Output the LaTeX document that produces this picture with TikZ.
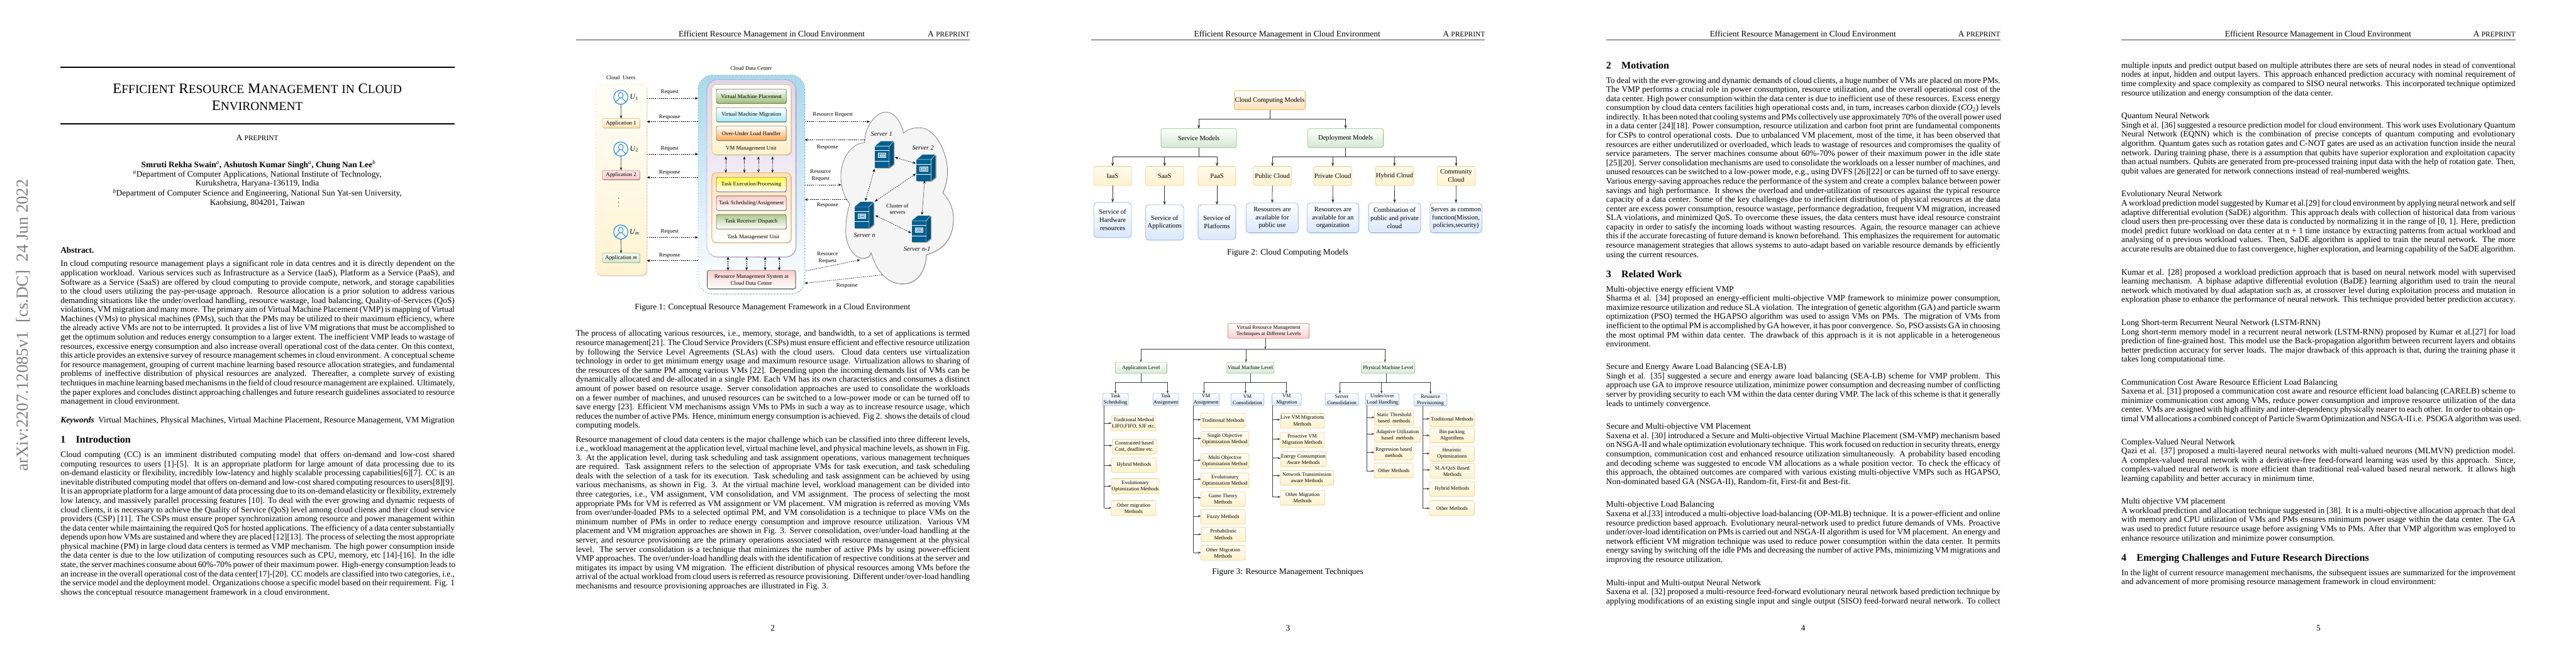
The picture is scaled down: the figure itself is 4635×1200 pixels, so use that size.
\documentclass[tikz,border=0pt]{standalone}
\usepackage{fontspec}
\setmainfont{Liberation Serif}
\usetikzlibrary{arrows.meta,shadows,calc}
\hfuzz=50pt \hbadness=10000 \overfullrule=0pt
\definecolor{srvblue}{HTML}{005F8F}
\definecolor{ublue}{HTML}{1E88E5}
\definecolor{dctop}{HTML}{A9D8EC}
\definecolor{dcbord}{HTML}{2F80A8}
\definecolor{purtop}{HTML}{E1D5E7}
\definecolor{purbord}{HTML}{8E5FA8}
\definecolor{ylo}{HTML}{FFF2CC}
\definecolor{ylobord}{HTML}{E3C878}
\definecolor{grn}{HTML}{D5E8D4}
\definecolor{grnbord}{HTML}{8DBB78}
\definecolor{blu}{HTML}{DAE8FC}
\definecolor{blubord}{HTML}{7F9FCC}
\definecolor{org}{HTML}{FFE0B8}
\definecolor{orgbord}{HTML}{F0A93A}
\definecolor{pnk}{HTML}{F8CECC}
\definecolor{pnkbord}{HTML}{C8605C}
\newcommand\bodyf{\fontsize{15.15}{16.5}\selectfont}
\newcommand\secf{\fontsize{18.2}{20}\selectfont\bfseries}
\newcommand\jln[1]{\hbox to 709pt{\rule[-4pt]{0pt}{12pt}#1}}
\newcommand\lln[1]{\hbox to 709pt{\rule[-4pt]{0pt}{12pt}#1\hfil}}
\newcommand\txtblock[4]{\node[anchor=north west,inner sep=0pt,outer sep=0pt] (#1) at (#2,{#3-12}) {\vtop{\hsize=709pt\bodyf\baselineskip=16.5pt\lineskip=0pt\lineskiplimit=-20pt\parindent=0pt #4}};}
\newcommand\aprep{A {\fontsize{12.9}{13}\selectfont PREPRINT}}
\newcommand\pagehead[4]{%
  \node[base,anchor=base] (#1h) at (#3,65.7) {\bodyf Efficient Resource Management in Cloud Environment};
  \node[base,anchor=base east] (#1p) at ({#2+709},65.7) {\bodyf\aprep};
  \draw[line width=.6pt,black!75] (#2,71.3) -- ({#2+709},71.3);
  \node[base,anchor=base] (#1n) at ({#2+354.5},1136) {\bodyf #4};}
\newcommand\bx[7][]{\node[box,#1,minimum width={(#5-#3)*1pt},minimum height={(#6-#4)*1pt}] (#2) at ({(#3+#5)/2},{(#4+#6)/2}) {#7};}
% leaf of figure 3: name, x1,y1,x2,y2, text, arrow y, trunk x
\newcommand\leaf[8]{\bx[leafbox]{#1}{#2}{#3}{#4}{#5}{#6}
  \coordinate (#1t) at (#8,#7);
  \draw[tree3] (#1t) -- (#1t -| #1.west);}
\tikzset{
  base/.style={inner sep=0pt,outer sep=0pt},
  box/.style={inner sep=0pt,outer sep=0pt,align=center,rounded corners=3pt},
  shd/.style={drop shadow={shadow xshift=.9pt,shadow yshift=-1.2pt,fill=black!50,opacity=.55}},
  fa/.style={font=\fontsize{10}{12.3}\selectfont},
  fb/.style={font=\fontsize{12}{14.6}\selectfont},
  fc/.style={font=\fontsize{9.4}{11.4}\selectfont},
  flabel/.style={base,fa,align=center},
  dasharr/.style={line width=.7pt,black,dash pattern=on 2pt off 1.6pt,-{Stealth[length=5.5pt,width=4.5pt]}},
  dbl/.style={line width=.7pt,black,dash pattern=on 2pt off 1.6pt,{Stealth[length=5.5pt,width=4.5pt]}-{Stealth[length=5.5pt,width=4.5pt]}},
  solidarr/.style={line width=.7pt,black!85,-{Stealth[length=5.5pt,width=4.5pt]}},
  innerbox/.style={fa,rounded corners=2.5pt,draw=black!65,line width=.7pt,shd},
  appbox/.style={fa,rounded corners=1.5pt,line width=.6pt,shd},
  tree2/.style={line width=.9pt,black!80,-{Stealth[length=6.5pt,width=5pt]}},
  line2/.style={line width=.9pt,black!80},
  tree3/.style={line width=.8pt,black!75,-{Stealth[length=5pt,width=4pt]}},
  line3/.style={line width=.8pt,black!75},
  yellowb/.style={fb,rounded corners=3.5pt,top color=ylo!30,bottom color=ylo,draw=ylobord,line width=.7pt},
  blueb/.style={fb,rounded corners=6pt,top color=white,bottom color=blu,draw=blubord,line width=.7pt},
  greenb/.style={top color=white,bottom color=grn,draw=grnbord,line width=.7pt,rounded corners=3.5pt},
  l3box/.style={fc,rounded corners=2pt,top color=white,bottom color=blu,draw=blubord,line width=.6pt},
  leafbox/.style={fc,rounded corners=2.5pt,top color=ylo!25,bottom color=ylo,draw=ylobord,line width=.6pt},
  serverpic/.pic={
    \fill[black!40] (1.6,1.6) rectangle (27.6,39.9);
    \fill[black!40] (27,1) -- (35.6,-8) -- (35.6,33) -- (27,39.9) -- cycle;
    \fill[srvblue] (0,0) rectangle (26,38.3);
    \fill[srvblue] (0,0) -- (10.7,-9) -- (34,-9) -- (26,0) -- cycle;
    \fill[srvblue!85!black] (26,0) -- (34,-9) -- (34,31.7) -- (26,38.3) -- cycle;
    \draw[white,line width=.5pt] (0,0) -- (26,0) -- (34,-9) (26,0) -- (26,38.3);
    \draw[white,line width=.9pt] (0,8) -- (26,8) (0,27) -- (26,27);
    \draw[white,line width=.8pt,fill=srvblue!70] (6,12.5) rectangle (20,20.5);
    \draw[white,line width=.5pt] (9,15) rectangle (17,18);
  },
  usericon/.pic={
    \draw[ublue,line width=1.1pt] (0,-3.5) ellipse (4.2 and 5.3);
    \draw[ublue,line width=1.1pt] (-9.2,8.5) .. controls (-8,5) and (-3.5,5.2) .. (-2.6,1.2)
       (9.2,8.5) .. controls (8,5) and (3.5,5.2) .. (2.6,1.2);
  },
}
\begin{document}
\begin{tikzpicture}[x=1pt,y=-1pt]
\useasboundingbox[fill=white] (0,0) rectangle (4635,1200);

% ------------------------------------------------ page 1
\node[base,anchor=base west,rotate=90,text=black!50] (stamp) at (50,848) {\fontsize{30.3}{32}\selectfont arXiv:2207.12085v1\ \ [cs.DC]\ \ 24 Jun 2022};
\draw[line width=2.6pt] (109,121.3) -- (818,121.3);
\draw[line width=2.6pt] (109,222.7) -- (818,222.7);
\newcommand\tc[2]{{\fontsize{26}{28}\selectfont #1\fontsize{22}{28}\selectfont #2}}
\node[base,anchor=base] (title1) at (463,167.6) {\fontsize{26}{28}\selectfont \tc{E}{FFICIENT} \tc{R}{ESOURCE} \tc{M}{ANAGEMENT} \tc{}{IN} \tc{C}{LOUD}};
\node[base,anchor=base] (title2) at (463,198.2) {\tc{E}{NVIRONMENT}};
\node[base,anchor=base] (prep) at (463,253) {\bodyf\aprep};
\node[base,anchor=base] (auth) at (465,301.6) {\bodyf\bfseries Smruti Rekha Swain\textsuperscript{\mdseries\itshape a}, Ashutosh Kumar Singh\textsuperscript{\mdseries\itshape a}, Chung Nan Lee\textsuperscript{\mdseries\itshape b}};
\node[base,anchor=base] (af1) at (463,318.4) {\bodyf\textsuperscript{\itshape a}Department of Computer Applications, National Institute of Technology,};
\node[base,anchor=base] (af2) at (463,334.9) {\bodyf Kurukshetra, Haryana-136119, India};
\node[base,anchor=base] (af3) at (463,352.9) {\bodyf\textsuperscript{\itshape b}Department of Computer Science and Engineering, National Sun Yat-sen University,};
\node[base,anchor=base] (af4) at (463,369.3) {\bodyf Kaohsiung, 804201, Taiwan};
\node[base,anchor=base west] (abs) at (109,456) {\bodyf\bfseries Abstract.};
\txtblock{abst}{109}{481}{
\jln{In cloud computing resource management plays a significant role in data centres and it is directly dependent on the}
\jln{application workload. Various services such as Infrastructure as a Service (IaaS), Platform as a Service (PaaS), and}
\jln{Software as a Service (SaaS) are offered by cloud computing to provide compute, network, and storage capabilities}
\jln{to the cloud users utilizing the pay-per-usage approach. Resource allocation is a prior solution to address various}
\jln{demanding situations like the under/overload handling, resource wastage, load balancing, Quality-of-Services (QoS)}
\jln{violations, VM migration and many more. The primary aim of Virtual Machine Placement (VMP) is mapping of Virtual}
\jln{Machines (VMs) to physical machines (PMs), such that the PMs may be utilized to their maximum efficiency, where}
\jln{the already active VMs are not to be interrupted. It provides a list of live VM migrations that must be accomplished to}
\jln{get the optimum solution and reduces energy consumption to a larger extent. The inefficient VMP leads to wastage of}
\jln{resources, excessive energy consumption and also increase overall operational cost of the data center. On this context,}
\jln{this article provides an extensive survey of resource management schemes in cloud environment. A conceptual scheme}
\jln{for resource management, grouping of current machine learning based resource allocation strategies, and fundamental}
\jln{problems of ineffective distribution of physical resources are analyzed. Thereafter, a complete survey of existing}
\jln{techniques in machine learning based mechanisms in the field of cloud resource management are explained. Ultimately,}
\jln{the paper explores and concludes distinct approaching challenges and future research guidelines associated to resource}
\lln{management in cloud environment.}}
\txtblock{kw}{109}{762.6}{\jln{\textbf{\textit{Keywords}}\ \ Virtual Machines, Physical Machines, Virtual Machine Placement, Resource Management, VM Migration}}
\node[base,anchor=base west] (s1n) at (109,797) {\secf 1};
\node[base,anchor=base west] (s1t) at (136.5,797) {\secf Introduction};
\txtblock{intro}{109}{824.6}{
\jln{Cloud computing (CC) is an imminent distributed computing model that offers on-demand and low-cost shared}
\jln{computing resources to users [1]-[5]. It is an appropriate platform for large amount of data processing due to its}
\jln{on-demand elasticity or flexibility, incredibly low-latency and highly scalable processing capabilities[6][7]. CC is an}
\jln{inevitable distributed computing model that offers on-demand and low-cost shared computing resources to users[8][9].}
\jln{It is an appropriate platform for a large amount of data processing due to its on-demand elasticity or flexibility, extremely}
\jln{low latency, and massively parallel processing features [10]. To deal with the ever growing and dynamic requests of}
\jln{cloud clients, it is necessary to achieve the Quality of Service (QoS) level among cloud clients and their cloud service}
\jln{providers (CSP) [11]. The CSPs must ensure proper synchronization among resource and power management within}
\jln{the data center while maintaining the required QoS for hosted applications. The efficiency of a data center substantially}
\jln{depends upon how VMs are sustained and where they are placed [12][13]. The process of selecting the most appropriate}
\jln{physical machine (PM) in large cloud data centers is termed as VMP mechanism. The high power consumption inside}
\jln{the data center is due to the low utilization of computing resources such as CPU, memory, etc [14]-[16]. In the idle}
\jln{state, the server machines consume about 60\%-70\% power of their maximum power. High-energy consumption leads to}
\jln{an increase in the overall operational cost of the data center[17]-[20]. CC models are classified into two categories, i.e.,}
\jln{the service model and the deployment model. Organizations choose a specific model based on their requirement. Fig. 1}
\lln{shows the conceptual resource management framework in a cloud environment.}}

% ------------------------------------------------ page 2
\pagehead{pg2}{1036}{1388.5}{2}
% figure 1 : users
\node[flabel] (lusers) at (1117,139.3) {Cloud\ \ Users};
\bx[top color=ylo!15,bottom color=ylo!90,draw=orange!70,line width=.9pt,dash pattern=on 1pt off 5pt,rounded corners=10pt,drop shadow={shadow xshift=.9pt,shadow yshift=-1.4pt,fill=black!40,opacity=.5}]{users}{1072}{151.7}{1164}{495.7}{}
\node[circle,draw=ublue,line width=1.3pt,minimum size=25.5pt,inner sep=0pt,outer sep=0pt,fill=white] (u1) at (1117,175) {};
\pic at (u1) {usericon};
\node[circle,draw=ublue,line width=1.3pt,minimum size=25.5pt,inner sep=0pt,outer sep=0pt,fill=white] (u2) at (1117,268.3) {};
\pic at (u2) {usericon};
\node[circle,draw=ublue,line width=1.3pt,minimum size=25.5pt,inner sep=0pt,outer sep=0pt,fill=white] (um) at (1117,417.7) {};
\pic at (um) {usericon};
\node[base,font=\fontsize{13}{14}\selectfont] (lu1) at (1141,175) {\textit{U}\textsubscript{1}};
\node[base,font=\fontsize{13}{14}\selectfont] (lu2) at (1141,268.3) {\textit{U}\textsubscript{2}};
\node[base,font=\fontsize{13}{14}\selectfont] (lum) at (1141.5,417.7) {\textit{U}\textsubscript{\itshape m}};
\bx[appbox,top color=ylo!30,bottom color=org,draw=ylobord]{app1}{1084}{213.3}{1151}{230}{Application 1}
\bx[appbox,top color=pnk!50,bottom color=pnk,draw=pnkbord]{app2}{1084}{306.7}{1151}{323.3}{Application 2}
\bx[appbox,top color=grn!30,bottom color=grn,draw=grnbord]{appm}{1084}{455.7}{1151}{472.3}{Application \textit{m}}
\draw[solidarr] (u1) -- (app1);
\draw[solidarr] (u2) -- (app2);
\draw[solidarr] (um) -- (appm);
\fill (1113,356.7) coordinate (d1) circle (.8);
\fill (1113,364) coordinate (d2) circle (.8);
\fill (1113,371) coordinate (d3) circle (.8);
% data center
\node[flabel] (ldc) at (1351.6,122.7) {Cloud Data Center};
\bx[top color=dctop,bottom color=white,draw=dcbord,line width=.9pt,dash pattern=on 1pt off 4.4pt,rounded corners=26pt,drop shadow={shadow xshift=.8pt,shadow yshift=-1.2pt,fill=black!35,opacity=.4}]{dc}{1256}{135}{1448}{529}{}
\bx[top color=purtop,bottom color=white,draw=purbord,line width=.8pt,dash pattern=on 1pt off 1.4pt,rounded corners=19pt,shd]{vmo}{1272}{143.3}{1432}{462.3}{}
\bx[top color=white,bottom color=ylo,draw=ylobord,line width=.9pt,rounded corners=8pt,shd]{vmu}{1280.8}{152.3}{1423.3}{278.3}{}
\bx[innerbox,top color=white,bottom color=green!45!yellow!55!black!55!white]{vmp}{1289}{160.7}{1414.6}{186}{Virtual Machine Placement}
\bx[innerbox,top color=white,bottom color=blue!25!cyan!35]{vmm}{1289}{193.7}{1414.6}{219.3}{Virtual Machine Migration}
\bx[innerbox,top color=white,bottom color=orange!65]{ovl}{1289}{227.3}{1414.6}{252.7}{Over-Under Load Handler}
\node[flabel] (lvmu) at (1351.6,267.3) {VM Management Unit};
\bx[top color=org,bottom color=white,draw=orgbord,line width=.9pt,rounded corners=8pt,shd]{tmu}{1280.8}{311}{1423.3}{436.7}{}
\bx[innerbox,top color=yellow!75,bottom color=white]{tex}{1289}{319.3}{1414.6}{345}{Task Execution/Processing}
\bx[innerbox,top color=pnk,bottom color=white]{tsc}{1289}{352.7}{1414.6}{378.3}{Task Scheduling/Assignment}
\bx[innerbox,top color=green!45!yellow!55!black!45!white,bottom color=white]{trc}{1289}{386.3}{1414.6}{412}{Task Receive/ Dispatch}
\node[flabel] (ltmu) at (1355.4,427.3) {Task Management Unit};
\bx[fa,top color=pnk,bottom color=white,draw=black!70,line width=.8pt,rounded corners=3.5pt,shd]{rms}{1272.5}{486.7}{1431.5}{520}{Resource Management System at\\Cloud Data Center}
\draw[dbl] (vmu.south -| 1306,0) ++(0,3.4) -- (tmu.north -| 1306,0);
\draw[dbl] (vmu.south -| 1339.4,0) ++(0,3.4) -- (tmu.north -| 1339.4,0);
\draw[dbl] (vmu.south -| 1364.6,0) ++(0,3.4) -- (tmu.north -| 1364.6,0);
\draw[dbl] (vmu.south -| 1389.9,0) ++(0,3.4) -- (tmu.north -| 1389.9,0);
\draw[dbl] (vmo.south -| 1309.9,0) -- (rms.north -| 1309.9,0);
\draw[dbl] (vmo.south -| 1343.3,0) -- (rms.north -| 1343.3,0);
\draw[dbl] (vmo.south -| 1376.8,0) -- (rms.north -| 1376.8,0);
\draw[dbl] (vmo.south -| 1402,0) -- (rms.north -| 1402,0);
% users <-> data center
\draw[dasharr] (users.east |- 0,177) -- (dc.west |- 0,177);
\draw[dasharr] (dc.west |- 0,219) -- (users.east |- 0,219);
\draw[dasharr] (users.east |- 0,277.3) -- (dc.west |- 0,277.3);
\draw[dasharr] (dc.west |- 0,319.3) -- (users.east |- 0,319.3);
\draw[dasharr] (users.east |- 0,427.3) -- (dc.west |- 0,427.3);
\draw[dasharr] (dc.west |- 0,469.3) -- (users.east |- 0,469.3);
\node[flabel] (lq1) at (1205,166) {Request};
\node[flabel] (lr1) at (1205,210.7) {Response};
\node[flabel] (lq2) at (1205,267.7) {Request};
\node[flabel] (lr2) at (1205,311) {Response};
\node[flabel] (lq3) at (1205,417.3) {Request};
\node[flabel] (lr3) at (1205,460) {Response};
% cloud
\draw[fill=black!4,draw=black!55,line width=.8pt,drop shadow={shadow xshift=.8pt,shadow yshift=-1.2pt,fill=black!35,opacity=.5}]
  (1555.6,256.7) .. controls (1555,230) and (1575,201.7) .. (1594.4,201.7)
  .. controls (1610,201.7) and (1622,222) .. (1625.9,240)
  .. controls (1632,232) and (1645,230) .. (1655,230)
  .. controls (1678,230) and (1700,262) .. (1704.4,300)
  .. controls (1706,320) and (1702,335) .. (1696.2,346.7)
  .. controls (1708,360) and (1715.6,375) .. (1715.6,393.3)
  .. controls (1715.6,420) and (1705,448) .. (1667,458.3)
  .. controls (1665,490) and (1650,511) .. (1623.5,511)
  .. controls (1595,511) and (1575,485) .. (1567.7,455)
  .. controls (1565,462) and (1560,465) .. (1553.2,465)
  .. controls (1535,465) and (1521.7,440) .. (1521.7,416.7)
  .. controls (1521.7,395) and (1525,380) .. (1529,366.7)
  .. controls (1518,355) and (1513,335) .. (1513,316.7)
  .. controls (1513,285) and (1532,258) .. (1555.6,256.7) -- cycle;
\foreach \nm/\cx/\cy in {s1/1591/278.3,s2/1666.2/302.3,sn/1554.7/387.3,sm/1657.5/412.3}{
  \node[base,minimum width=36pt,minimum height=48pt] (\nm) at (\cx,\cy) {};
  \pic at (\cx-17,\cy-15) {serverpic};
}
\node[base,font=\fontsize{11.5}{13}\selectfont\itshape] (ls1) at (1586.2,241) {Server 1};
\node[base,font=\fontsize{11.5}{13}\selectfont\itshape] (ls2) at (1660.8,266) {Server 2};
\node[base,font=\fontsize{11.5}{13}\selectfont\itshape] (lsn) at (1555.6,423.3) {Server n};
\node[base,font=\fontsize{11.5}{13}\selectfont\itshape] (lsm) at (1650,448.3) {Server n-1};
\node[flabel] (lcl) at (1614.8,376.2) {Cluster of\\servers};
\draw[dbl] ([shift={(19.4,5)}]s1.center) -- ([shift={(-18.5,-8.3)}]s2.center);
\draw[dbl] ([shift={(-17.5,25.7)}]s1.center) -- ([shift={(2.3,-25.6)}]sn.center);
\draw[dbl] ([shift={(-18.5,10.4)}]s2.center) -- ([shift={(19.3,-24.6)}]sn.center);
\draw[dbl] ([shift={(-2.5,22.7)}]s2.center) -- ([shift={(1.4,-25.6)}]sm.center);
\draw[dbl] ([shift={(20.3,.4)}]sn.center) -- ([shift={(-18,7)}]sm.center);
% data center <-> cloud
\coordinate (c1) at (1565,219); \coordinate (c2) at (1557,251.7);
\coordinate (c3) at (1513.5,332.7); \coordinate (c4) at (1524,359.3);
\coordinate (c5) at (1547.4,467.7); \coordinate (c6) at (1587,495);
\draw[dasharr] (dc.east |- c1) -- (c1);
\draw[dasharr] (c2) -- (dc.east |- c2);
\draw[dasharr] (dc.east |- c3) -- (c3);
\draw[dasharr] (c4) -- (dc.east |- c4);
\draw[dasharr] (dc.east |- 0,487.7) ++(2,0) -- (c5);
\draw[dasharr] (c6) -- (dc.east |- 0,509.8);
\node[flabel] (lc1) at (1498.4,206.3) {Resource Request};
\node[flabel] (lc2) at (1489,265) {Response};
\node[flabel] (lc3) at (1476.6,315.5) {Resource\\Request};
\node[flabel] (lc4) at (1489,370) {Response};
\node[flabel] (lc5) at (1489,463.8) {Resource\\Request};
\node[flabel] (lc6) at (1524,514.3) {Response};
\node[base,anchor=base] (cap1) at (1390,557) {\bodyf Figure 1: Conceptual Resource Management Framework in a Cloud Environment};
\txtblock{p2a}{1036}{606.7}{
\jln{The process of allocating various resources, i.e., memory, storage, and bandwidth, to a set of applications is termed}
\jln{resource management[21]. The Cloud Service Providers (CSPs) must ensure efficient and effective resource utilization}
\jln{by following the Service Level Agreements (SLAs) with the cloud users. Cloud data centers use virtualization}
\jln{technology in order to get minimum energy usage and maximum resource usage. Virtualization allows to sharing of}
\jln{the resources of the same PM among various VMs [22]. Depending upon the incoming demands list of VMs can be}
\jln{dynamically allocated and de-allocated in a single PM. Each VM has its own characteristics and consumes a distinct}
\jln{amount of power based on resource usage. Server consolidation approaches are used to consolidate the workloads}
\jln{on a fewer number of machines, and unused resources can be switched to a low-power mode or can be turned off to}
\jln{save energy [23]. Efficient VM mechanisms assign VMs to PMs in such a way as to increase resource usage, which}
\jln{reduces the number of active PMs. Hence, minimum energy consumption is achieved. Fig 2. shows the details of cloud}
\lln{computing models.}}
\txtblock{p2b}{1036}{796.9}{
\jln{Resource management of cloud data centers is the major challenge which can be classified into three different levels,}
\jln{i.e., workload management at the application level, virtual machine level, and physical machine levels, as shown in Fig.}
\jln{3. At the application level, during task scheduling and task assignment operations, various management techniques}
\jln{are required. Task assignment refers to the selection of appropriate VMs for task execution, and task scheduling}
\jln{deals with the selection of a task for its execution. Task scheduling and task assignment can be achieved by using}
\jln{various mechanisms, as shown in Fig. 3. At the virtual machine level, workload management can be divided into}
\jln{three categories, i.e., VM assignment, VM consolidation, and VM assignment. The process of selecting the most}
\jln{appropriate PMs for VM is referred as VM assignment or VM placement. VM migration is referred as moving VMs}
\jln{from over/under-loaded PMs to a selected optimal PM, and VM consolidation is a technique to place VMs on the}
\jln{minimum number of PMs in order to reduce energy consumption and improve resource utilization. Various VM}
\jln{placement and VM migration approaches are shown in Fig. 3. Server consolidation, over/under-load handling at the}
\jln{server, and resource provisioning are the primary operations associated with resource management at the physical}
\jln{level. The server consolidation is a technique that minimizes the number of active PMs by using power-efficient}
\jln{VMP approaches. The over/under-load handling deals with the identification of respective conditions at the server and}
\jln{mitigates its impact by using VM migration. The efficient distribution of physical resources among VMs before the}
\jln{arrival of the actual workload from cloud users is referred as resource provisioning. Different under/over-load handling}
\lln{mechanisms and resource provisioning approaches are illustrated in Fig. 3.}}

% ------------------------------------------------ page 3
\pagehead{pg3}{1963}{2316}{3}
% figure 2
\bx[fb,top color=white,bottom color=org,draw=orgbord,line width=.8pt,rounded corners=3.5pt]{ccm}{2221}{163.3}{2348.6}{197.7}{Cloud Computing Models}
\bx[fb,greenb]{svc}{2088.9}{231.7}{2225.1}{265.7}{Service Models}
\bx[fb,greenb]{dep}{2353.2}{231.7}{2488.9}{265.7}{Deployment Models}
\bx[yellowb]{iaas}{1968}{299.3}{2035.8}{334}{IaaS}
\bx[yellowb]{saas}{2061.3}{299.3}{2129.7}{334}{SaaS}
\bx[yellowb]{paas}{2155.7}{299.3}{2223.6}{334}{PaaS}
\bx[yellowb]{pub}{2255.2}{299.3}{2323.6}{334}{Public Cloud}
\bx[yellowb]{pri}{2363.9}{299.3}{2432.2}{334}{Private Cloud}
\bx[yellowb]{hyb}{2475.1}{299.3}{2543}{334}{Hybrid Cloud}
\bx[yellowb]{com}{2585.8}{299.3}{2654.2}{334}{Community\\Cloud}
\bx[blueb]{iaasd}{1968}{364.3}{2035.8}{427.7}{Service of\\Hardware\\resources}
\bx[blueb]{saasd}{2061.3}{368.7}{2129.7}{432.3}{Service of\\Applications}
\bx[blueb]{paasd}{2155.7}{368.7}{2223.6}{431.3}{Service of\\Platforms}
\bx[blueb]{pubd}{2242.4}{365.3}{2335.8}{419.3}{Resources are\\available for\\public use}
\bx[blueb]{prid}{2351.6}{365.3}{2445}{419.3}{Resources are\\available for an\\organization}
\bx[blueb]{hybd}{2462.3}{365.3}{2556.2}{419.3}{Combination of\\public and private\\cloud}
\bx[blueb]{comd}{2573}{365.3}{2666.4}{419.3}{Serves as common\\function(Mission,\\policies,security)}
\coordinate (j2a) at (ccm.south |- 0,214.3);
\draw[line2] (ccm.south) -- (j2a);
\draw[tree2] (j2a) -| (svc.north);
\draw[tree2] (j2a) -| (dep.north);
\coordinate (j2b) at (svc.south |- 0,282.7);
\draw[line2] (svc.south) -- (j2b);
\draw[tree2] (j2b) -| (iaas.north);
\draw[tree2] (j2b) -| (saas.north);
\draw[tree2] (j2b) -| (paas.north);
\coordinate (j2c) at (dep.south |- 0,282.7);
\draw[line2] (dep.south) -- (j2c);
\draw[tree2] (j2c) -| (pub.north);
\draw[tree2] (j2c) -| (pri.north);
\draw[tree2] (j2c) -| (hyb.north);
\draw[tree2] (j2c) -| (com.north);
\foreach \a/\b in {iaas/iaasd,saas/saasd,paas/paasd,pub/pubd,pri/prid,hyb/hybd,com/comd}
  \draw[tree2] (\a.south) -- (\b.north);
\node[base,anchor=base] (cap2) at (2317,458.3) {\bodyf Figure 2: Cloud Computing Models};
% figure 3
\bx[fc,top color=white,bottom color=pnk,draw=pnkbord,line width=.7pt,rounded corners=2.5pt]{vrm}{2209.3}{582.3}{2355.7}{609}{Virtual Resource Management\\Techniques at Different Levels}
\bx[fc,greenb,rounded corners=2pt]{apl}{2006.7}{652}{2099.6}{672.3}{Application Level}
\bx[fc,greenb,rounded corners=2pt]{vml}{2206.7}{652}{2292.4}{672.3}{Vitual Machine Level}
\bx[fc,greenb,rounded corners=2pt]{phl}{2449.6}{652}{2545.5}{672.3}{Physical Machine Level}
\coordinate (j3a) at (2276.6,628.7);
\draw[tree3] (j3a |- vrm.south) -- (j3a);
\draw[tree3] (j3a) -| (apl.north -| 2052.7,0);
\draw[tree3] (j3a) -| (vml.north -| 2241.9,0);
\draw[tree3] (j3a) -| (phl.north -| 2492,0);
\bx[l3box]{ts}{1983.7}{708.3}{2030.3}{730}{Task\\Scheduling}
\bx[l3box]{ta}{2074.3}{708.3}{2120.7}{730}{Task\\Assignment}
\bx[l3box,rounded corners=.5pt]{vma}{2146.7}{708.3}{2193.3}{730}{VM\\Assignment}
\bx[l3box]{vmc}{2214.7}{708.3}{2274.3}{730}{VM\\Consolidation}
\bx[l3box]{vmg}{2288.7}{708.3}{2341.4}{730}{VM\\Migration}
\bx[l3box]{sco}{2384.3}{708.3}{2444.3}{730}{Server\\Consolidation}
\bx[l3box]{ulh}{2457.3}{708.3}{2517.3}{730}{Under/over\\Load Handling}
\bx[l3box]{rpv}{2544}{709.3}{2603.7}{730.7}{Resource\\Provisioning}
\coordinate (j3b) at (apl.south |- 0,688.3);
\draw[line3] (apl.south) -- (j3b);
\draw[tree3] (j3b) -| (ts.north);
\draw[tree3] (j3b) -| ([xshift=3.2pt]ta.north);
\coordinate (j3c) at (vml.south |- 0,688.3);
\draw[line3] (vml.south) -- (j3c);
\draw[tree3] (j3c) -| ([xshift=-4pt]vma.north);
\draw[tree3] (j3c) -| ([xshift=-3.5pt]vmc.north);
\draw[tree3] (j3c) -| ([xshift=-.7pt]vmg.north);
\coordinate (j3d) at (2494.5,688.3);
\draw[line3] (j3d |- phl.south) -- (j3d);
\draw[tree3] (j3d) -| ([xshift=-3.6pt]sco.north);
\draw[tree3] (j3d) -| ([xshift=-1.6pt]ulh.north);
\draw[tree3] (j3d) -| (rpv.north);
% leaves
\leaf{t1}{1999.7}{748.7}{2079.7}{775.3}{Traditional Method\\LIFO,FIFO, SJF etc.}{761.7}{1986.7}
\leaf{t2}{2001}{790.7}{2081}{817.3}{Constrained based\\Cost, deadline etc.}{802}{1986.7}
\leaf{t3}{2000.3}{824}{2080.3}{850.3}{Hybrid Methods}{837.7}{1986.7}
\leaf{t4}{1999.7}{861.7}{2085.7}{888.3}{Evolutionary\\Optimization Methods}{875}{1986.7}
\leaf{t5}{1999.7}{901.3}{2079.7}{928}{Other migration\\Methods}{914.3}{1986.7}
\draw[line3] (t5t |- ts.south) -- (t5t);
\leaf{a1}{2160.7}{743.7}{2240.7}{770}{Traditional Methods}{755.3}{2147.3}
\leaf{a2}{2160.7}{776.7}{2247.3}{803.3}{Single Objective\\Optimization Method}{789.3}{2147.3}
\leaf{a3}{2160.7}{816.7}{2247.3}{843.3}{Multi Objective\\Optimization Method}{828.3}{2147.3}
\leaf{a4}{2160.7}{851.3}{2247.3}{878}{Evolutionary\\Optimization Method}{862.3}{2147.3}
\leaf{a5}{2160.7}{884.7}{2240.7}{911.3}{Game Theory\\Methods}{896}{2147.3}
\leaf{a6}{2160.7}{917.3}{2240.7}{943.7}{Fuzzy Methods}{929}{2147.3}
\leaf{a7}{2161.3}{948.7}{2241.3}{975.3}{Probabilistic\\Methods}{961.7}{2147.3}
\leaf{a8}{2160.7}{981.7}{2240.7}{1008.3}{Other Migration\\Methods}{994.7}{2147.3}
\draw[line3] (a8t |- vma.south) -- (a8t);
\leaf{m1}{2303.3}{744}{2383.3}{770.7}{Live VM Migrations\\Methods}{755.3}{2289.7}
\leaf{m2}{2303.3}{778.7}{2383}{805.3}{Proactive VM\\Migration Methods}{790.3}{2289.7}
\leaf{m3}{2304.3}{813.3}{2385.7}{840}{Energy Consumption\\Aware Methods}{824.7}{2289.7}
\leaf{m4}{2303.3}{846.7}{2399.7}{873.3}{Network Transimission\\aware Methods}{856.3}{2289.7}
\leaf{m5}{2303.7}{882.7}{2383.7}{909.3}{Other Migration\\Methods}{894.3}{2289.7}
\draw[line3] (m5t |- vmg.south) -- (m5t);
\leaf{u1x}{2473.3}{738.7}{2543.3}{765.3}{Static Threshold\\based\ \ methods}{751.3}{2459.3}
\leaf{u2x}{2472.7}{769.3}{2556.7}{796}{Adaptive Utilization\\based\ \ methods}{781}{2459.3}
\leaf{u3x}{2472.7}{801.3}{2542.7}{828}{Regression based\\methods}{814.3}{2459.3}
\leaf{u4x}{2472.7}{833.3}{2542.7}{860}{Other Methods}{847.7}{2459.3}
\draw[line3] (u4xt |- ulh.south) -- (u4xt);
\leaf{r1}{2572.3}{741.3}{2652.7}{768}{Traditional Methods}{753.7}{2559.7}
\leaf{r2}{2572.3}{770.7}{2652.7}{797.3}{Bin packing\\Algorithms}{784}{2559.7}
\leaf{r3}{2572.3}{803.3}{2652.7}{830}{Heuristic\\Optimizations}{816.3}{2559.7}
\leaf{r4}{2573}{834.7}{2653.3}{861.3}{SLA/QoS Based\\Methods}{845.7}{2559.7}
\leaf{r5}{2572.3}{866.7}{2652.7}{893.3}{Hybrid Methods}{879.7}{2559.7}
\leaf{r6}{2572.3}{901.3}{2652.7}{928}{Other Methods}{915}{2559.7}
\draw[line3] (r6t |- rpv.south) -- (r6t);
\node[base,anchor=base] (cap3) at (2317,1033.3) {\bodyf Figure 3: Resource Management Techniques};

% ------------------------------------------------ page 4
\pagehead{pg4}{2890}{3244}{4}
\node[base,anchor=base west] (s2n) at (2890,123.6) {\secf 2};
\node[base,anchor=base west] (s2t) at (2917.4,123.6) {\secf Motivation};
\txtblock{mot}{2890}{150.8}{
\jln{To deal with the ever-growing and dynamic demands of cloud clients, a huge number of VMs are placed on more PMs.}
\jln{The VMP performs a crucial role in power consumption, resource utilization, and the overall operational cost of the}
\jln{data center. High power consumption within the data center is due to inefficient use of these resources. Excess energy}
\jln{consumption by cloud data centers facilities high operational costs and, in turn, increases carbon dioxide (\textit{CO}\textsubscript{2}) levels}
\jln{indirectly. It has been noted that cooling systems and PMs collectively use approximately 70\% of the overall power used}
\jln{in a data center [24][18]. Power consumption, resource utilization and carbon foot print are fundamental components}
\jln{for CSPs to control operational costs. Due to unbalanced VM placement, most of the time, it has been observed that}
\jln{resources are either underutilized or overloaded, which leads to wastage of resources and compromises the quality of}
\jln{service parameters. The server machines consume about 60\%-70\% power of their maximum power in the idle state}
\jln{[25][20]. Server consolidation mechanisms are used to consolidate the workloads on a lesser number of machines, and}
\jln{unused resources can be switched to a low-power mode, e.g., using DVFS [26][22] or can be turned off to save energy.}
\jln{Various energy-saving approaches reduce the performance of the system and create a complex balance between power}
\jln{savings and high performance. It shows the overload and under-utilization of resources against the typical resource}
\jln{capacity of a data center. Some of the key challenges due to inefficient distribution of physical resources at the data}
\jln{center are excess power consumption, resource wastage, performance degradation, frequent VM migration, increased}
\jln{SLA violations, and minimized QoS. To overcome these issues, the data centers must have ideal resource constraint}
\jln{capacity in order to satisfy the incoming loads without wasting resources. Again, the resource manager can achieve}
\jln{this if the accurate forecasting of future demand is known beforehand. This emphasizes the requirement for automatic}
\jln{resource management strategies that allows systems to auto-adapt based on variable resource demands by efficiently}
\lln{using the current resources.}}
\node[base,anchor=base west] (s3n) at (2890,499.4) {\secf 3};
\node[base,anchor=base west] (s3t) at (2917.4,499.4) {\secf Related Work};
\txtblock{r4a}{2890}{526.6}{
\lln{Multi-objective energy efficient VMP}
\jln{Sharma et al. [34] proposed an energy-efficient multi-objective VMP framework to minimize power consumption,}
\jln{maximize resource utilization and reduce SLA violation. The integration of genetic algorithm (GA) and particle swarm}
\jln{optimization (PSO) termed the HGAPSO algorithm was used to assign VMs on PMs. The migration of VMs from}
\jln{inefficient to the optimal PM is accomplished by GA however, it has poor convergence. So, PSO assists GA in choosing}
\jln{the most optimal PM within data center. The drawback of this approach is it is not applicable in a heterogeneous}
\lln{environment.}}
\txtblock{r4b}{2890}{666.6}{
\lln{Secure and Energy Aware Load Balancing (SEA-LB)}
\jln{Singh et al. [35] suggested a secure and energy aware load balancing (SEA-LB) scheme for VMP problem. This}
\jln{approach use GA to improve resource utilization, minimize power consumption and decreasing number of conflicting}
\jln{server by providing security to each VM within the data center during VMP. The lack of this scheme is that it generally}
\lln{leads to untimely convergence.}}
\txtblock{r4c}{2890}{774.1}{
\lln{Secure and Multi-objective VM Placement}
\jln{Saxena et al. [30] introduced a Secure and Multi-objective Virtual Machine Placement (SM-VMP) mechanism based}
\jln{on NSGA-II and whale optimization evolutionary technique. This work focused on reduction in security threats, energy}
\jln{consumption, communication cost and enhanced resource utilization simultaneously. A probability based encoding}
\jln{and decoding scheme was suggested to encode VM allocations as a whale position vector. To check the efficacy of}
\jln{this approach, the obtained outcomes are compared with various existing multi-objective VMPs such as HGAPSO,}
\lln{Non-dominated based GA (NSGA-II), Random-fit, First-fit and Best-fit.}}
\txtblock{r4d}{2890}{914.6}{
\lln{Multi-objective Load Balancing}
\jln{Saxena et al.[33] introduced a multi-objective load-balancing (OP-MLB) technique. It is a power-efficient and online}
\jln{resource prediction based approach. Evolutionary neural-network used to predict future demands of VMs. Proactive}
\jln{under/over-load identification on PMs is carried out and NSGA-II algorithm is used for VM placement. An energy and}
\jln{network efficient VM migration technique was used to reduce power consumption within the data center. It permits}
\jln{energy saving by switching off the idle PMs and decreasing the number of active PMs, minimizing VM migrations and}
\lln{improving the resource utilization.}}
\txtblock{r4e}{2890}{1055.4}{
\lln{Multi-input and Multi-output Neural Network}
\jln{Saxena et al. [32] proposed a multi-resource feed-forward evolutionary neural network based prediction technique by}
\jln{applying modifications of an existing single input and single output (SISO) feed-forward neural network. To collect}}

% ------------------------------------------------ page 5
\pagehead{pg5}{3817}{4171}{5}
\txtblock{r5a}{3817}{124}{
\jln{multiple inputs and predict output based on multiple attributes there are sets of neural nodes in stead of conventional}
\jln{nodes at input, hidden and output layers. This approach enhanced prediction accuracy with nominal requirement of}
\jln{time complexity and space complexity as compared to SISO neural networks. This incorporated technique optimized}
\lln{resource utilization and energy consumption of the data center.}}
\txtblock{r5b}{3817}{215}{
\lln{Quantum Neural Network}
\jln{Singh et al. [36] suggested a resource prediction model for cloud environment. This work uses Evolutionary Quantum}
\jln{Neural Network (EQNN) which is the combination of precise concepts of quantum computing and evolutionary}
\jln{algorithm. Quantum gates such as rotation gates and C-NOT gates are used as an activation function inside the neural}
\jln{network. During training phase, there is a assumption that qubits have superior exploration and exploitation capacity}
\jln{than actual numbers. Qubits are generated from pre-processed training input data with the help of rotation gate. Then,}
\lln{qubit values are generated for network connections instead of real-numbered weights.}}
\txtblock{r5c}{3817}{355.5}{
\lln{Evolutionary Neural Network}
\jln{A workload prediction model suggested by Kumar et al.[29] for cloud environment by applying neural network and self}
\jln{adaptive differential evolution (SaDE) algorithm. This approach deals with collection of historical data from various}
\jln{cloud users then pre-processing over these data is conducted by normalizing it in the range of [0, 1]. Here, prediction}
\jln{model predict future workload on data center at n + 1 time instance by extracting patterns from actual workload and}
\jln{analysing of n previous workload values. Then, SaDE algorithm is applied to train the neural network. The more}
\jln{accurate results are obtained due to fast convergence, higher exploration, and learning capability of the SaDE algorithm.}}
\txtblock{r5d}{3817}{496}{
\jln{Kumar et al. [28] proposed a workload prediction approach that is based on neural network model with supervised}
\jln{learning mechanism. A biphase adaptive differential evolution (BaDE) learning algorithm used to train the neural}
\jln{network which motivated by dual adaptation such as, at crossover level during exploitation process and mutation in}
\jln{exploration phase to enhance the performance of neural network. This technique provided better prediction accuracy.}}
\txtblock{r5e}{3817}{587}{
\lln{Long Short-term Recurrent Neural Network (LSTM-RNN)}
\jln{Long short-term memory model in a recurrent neural network (LSTM-RNN) proposed by Kumar et al.[27] for load}
\jln{prediction of fine-grained host. This model use the Back-propagation algorithm between recurrent layers and obtains}
\jln{better prediction accuracy for server loads. The major drawback of this approach is that, during the training phase it}
\lln{takes long computational time.}}
\txtblock{r5f}{3817}{694}{
\lln{Communication Cost Aware Resource Efficient Load Balancing}
\jln{Saxena et al. [31] proposed a communication cost aware and resource efficient load balancing (CARELB) scheme to}
\jln{minimize communication cost among VMs, reduce power consumption and improve resource utilization of the data}
\jln{center. VMs are assigned with high affinity and inter-dependency physically nearer to each other. In order to obtain op-}
\jln{timal VM allocations a combined concept of Particle Swarm Optimization and NSGA-II i.e. PSOGA algorithm was used.}}
\txtblock{r5g}{3817}{801.7}{
\lln{Complex-Valued Neural Network}
\jln{Qazi et al. [37] proposed a multi-layered neural networks with multi-valued neurons (MLMVN) prediction model.}
\jln{A complex-valued neural network with a derivative-free feed-forward learning was used by this approach. Since,}
\jln{complex-valued neural network is more efficient than traditional real-valued based neural network. It allows high}
\lln{learning capability and better accuracy in minimum time.}}
\txtblock{r5h}{3817}{908.8}{
\lln{Multi objective VM placement}
\jln{A workload prediction and allocation technique suggested in [38]. It is a multi-objective allocation approach that deal}
\jln{with memory and CPU utilization of VMs and PMs ensures minimum power usage within the data center. The GA}
\jln{was used to predict future resource usage before assigning VMs to PMs. After that VMP algorithm was employed to}
\lln{enhance resource utilization and minimize power consumption.}}
\node[base,anchor=base west] (s4n) at (3817,1009.5) {\secf 4};
\node[base,anchor=base west] (s4t) at (3844.3,1009.5) {\secf Emerging Challenges and Future Research Directions};
\txtblock{r5i}{3817}{1037}{
\jln{In the light of current resource management mechanisms, the subsequent issues are summarized for the improvement}
\lln{and advancement of more promising resource management framework in cloud environment:}}
\end{tikzpicture}
\end{document}
